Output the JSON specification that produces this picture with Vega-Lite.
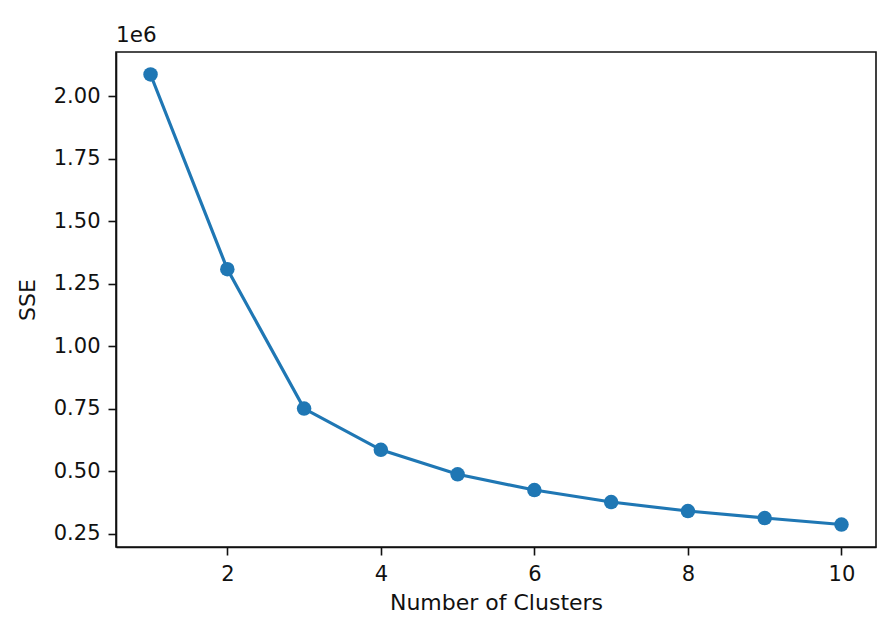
{
  "$schema": "https://vega.github.io/schema/vega-lite/v6.json",
  "width": 760,
  "height": 495,
  "autosize": {"type": "none"},
  "padding": {"left": 116, "top": 52, "right": 15, "bottom": 85},
  "background": "white",
  "config": {
    "font": "DejaVu Sans",
    "view": {"stroke": "#111", "strokeWidth": 1.6},
    "axis": {
      "domainColor": "#111",
      "domainWidth": 1.6,
      "tickColor": "#111",
      "tickWidth": 1.6,
      "tickSize": 8,
      "labelFont": "DejaVu Sans",
      "labelFontSize": 21,
      "labelColor": "#111",
      "labelPadding": 8,
      "titleFont": "DejaVu Sans",
      "titleFontSize": 22,
      "titleFontWeight": "normal",
      "titleColor": "#111",
      "grid": false
    }
  },
  "title": {
    "text": "1e6",
    "anchor": "start",
    "frame": "group",
    "fontSize": 21.5,
    "fontWeight": "normal",
    "font": "DejaVu Sans",
    "color": "#111",
    "offset": 6
  },
  "data": {
    "values": [
      {"k": 1, "sse": 2088000},
      {"k": 2, "sse": 1309000},
      {"k": 3, "sse": 751000},
      {"k": 4, "sse": 586000},
      {"k": 5, "sse": 488000},
      {"k": 6, "sse": 425000},
      {"k": 7, "sse": 377000},
      {"k": 8, "sse": 341000},
      {"k": 9, "sse": 313000},
      {"k": 10, "sse": 287000}
    ]
  },
  "mark": {
    "type": "line",
    "color": "#1f77b4",
    "strokeWidth": 3.2,
    "clip": false,
    "point": {"filled": true, "size": 210, "color": "#1f77b4", "opacity": 1}
  },
  "encoding": {
    "x": {
      "field": "k",
      "type": "quantitative",
      "title": "Number of Clusters",
      "scale": {"domain": [0.55, 10.45], "nice": false, "zero": false},
      "axis": {"values": [2, 4, 6, 8, 10], "format": "d", "titlePadding": 8, "labelFlush": false}
    },
    "y": {
      "field": "sse",
      "type": "quantitative",
      "title": "SSE",
      "scale": {"domain": [197000, 2178000], "nice": false, "zero": false},
      "axis": {
        "values": [250000, 500000, 750000, 1000000, 1250000, 1500000, 1750000, 2000000],
        "labelExpr": "format(datum.value / 1000000, '.2f')",
        "titlePadding": 14,
        "labelFlush": false
      }
    }
  }
}
